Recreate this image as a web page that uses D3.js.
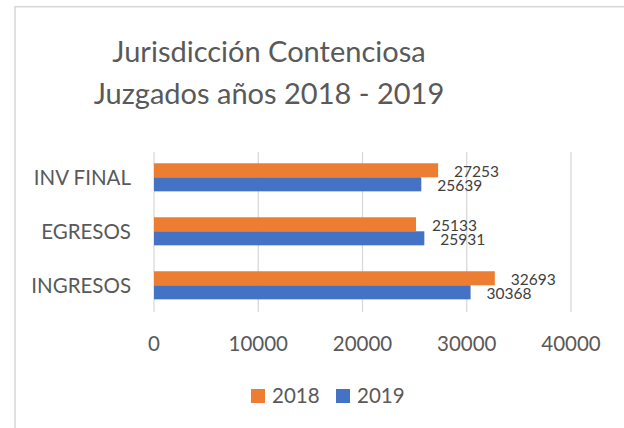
<!DOCTYPE html>
<html><head><meta charset="utf-8">
<script src="https://cdn.jsdelivr.net/npm/d3@7"></script>
<style>html,body{margin:0;padding:0;background:#fff;}svg{display:block;}</style>
</head><body>
<svg id="chart" width="624" height="428"></svg>
<script>
const titleLines = ["Jurisdicción Contenciosa", "Juzgados años 2018 - 2019"];
const categories = ["INV FINAL", "EGRESOS", "INGRESOS"];
const seriesNames = ["2018", "2019"];
const values2018 = [27253, 25133, 32693];
const values2019 = [25639, 25931, 30368];
const xTicks = [0, 10000, 20000, 30000, 40000];
const colors = ["#ED7D31", "#4472C4"];

const svg = d3.select("#chart");
const font = "Lato, 'Open Sans', sans-serif";

// chart border (left/top visible)
svg.append("rect").attr("x", 15).attr("y", 6.7).attr("width", 700).attr("height", 500)
  .attr("fill", "none").attr("stroke", "#d9d9d9").attr("stroke-width", 1.6);

// title
const title = svg.append("g");
titleLines.forEach((t, i) => {
  title.append("text").attr("x", 269).attr("y", 61.7 + i * 42.3)
    .attr("text-anchor", "middle").attr("font-family", font).attr("font-size", 29)
    .attr("fill", "#595959").text(t);
});

const x = d3.scaleLinear().domain([0, 40000]).range([154, 571]);
const y = d3.scaleBand().domain(categories).range([150.3, 312.3]).paddingInner(0.48).paddingOuter(0.24);
const sub = d3.scaleBand().domain(seriesNames).range([0, y.bandwidth()]);

// gridlines
svg.append("g").selectAll("line").data(xTicks).join("line")
  .attr("x1", d => x(d)).attr("x2", d => x(d)).attr("y1", 152).attr("y2", 312)
  .attr("stroke", "#d9d9d9").attr("stroke-width", 1.3);

// x tick labels
svg.append("g").selectAll("text").data(xTicks).join("text")
  .attr("x", d => x(d)).attr("y", 350.5).attr("text-anchor", "middle")
  .attr("font-family", font).attr("font-size", 20.5).attr("fill", "#595959")
  .text(d => d);

// category labels
svg.append("g").selectAll("text").data(categories).join("text")
  .attr("x", 131).attr("y", d => y(d) + y.bandwidth() / 2 + 7.5).attr("text-anchor", "end")
  .attr("font-family", font).attr("font-size", 20.5).attr("fill", "#595959")
  .text(d => d);

const rows = [];
categories.forEach((c, i) => {
  rows.push({cat: c, s: "2018", v: values2018[i], col: colors[0]});
  rows.push({cat: c, s: "2019", v: values2019[i], col: colors[1]});
});

svg.append("g").selectAll("rect").data(rows).join("rect")
  .attr("x", x(0)).attr("y", d => y(d.cat) + sub(d.s))
  .attr("width", d => x(d.v) - x(0)).attr("height", sub.bandwidth())
  .attr("fill", d => d.col);

svg.append("g").selectAll("text").data(rows).join("text")
  .attr("x", d => x(d.v) + 16).attr("y", d => y(d.cat) + sub(d.s) + sub.bandwidth())
  .attr("font-family", font).attr("font-size", 15.5).attr("fill", "#404040")
  .text(d => d.v);

// legend
const legendX = [251, 336];
const lg = svg.append("g");
seriesNames.forEach((s, i) => {
  lg.append("rect").attr("x", legendX[i]).attr("y", 389).attr("width", 14).attr("height", 14).attr("fill", colors[i]);
  lg.append("text").attr("x", legendX[i] + 21).attr("y", 403).attr("font-family", font)
    .attr("font-size", 20.5).attr("fill", "#595959").text(s);
});
</script>
</body></html>
